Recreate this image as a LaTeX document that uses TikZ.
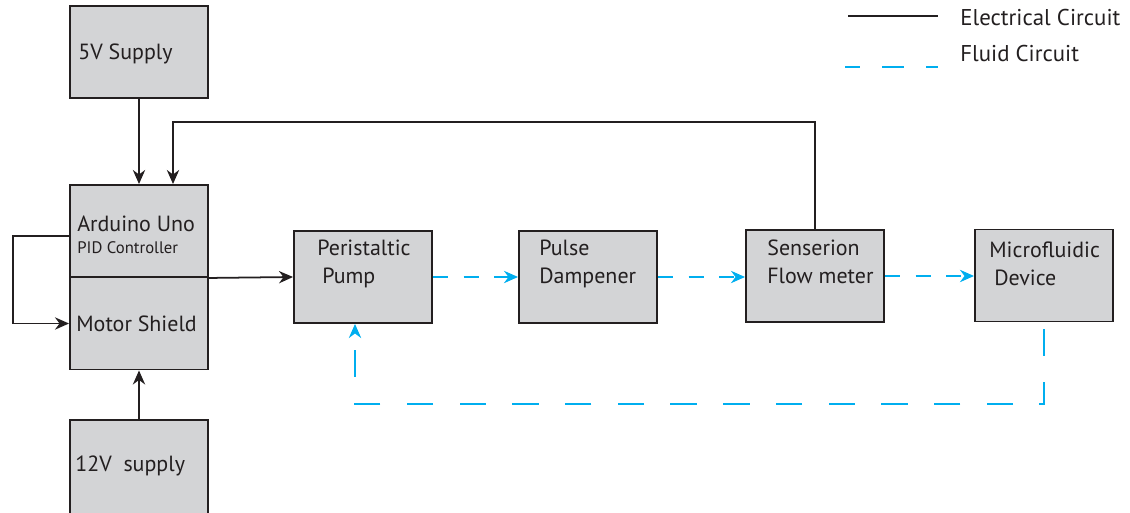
\documentclass[tikz,border=0pt]{standalone}
\usepackage{fontspec}
\setmainfont{PT Sans}
\usetikzlibrary{arrows.meta}
\definecolor{boxgray}{HTML}{D3D4D6}
\definecolor{fluidblue}{HTML}{00AEEF}
\definecolor{edgeblack}{HTML}{231F20}
\tikzset{
	block/.style={draw=edgeblack, fill=boxgray, line width=1.1pt, minimum width=2.76cm, minimum height=1.84cm, inner sep=0pt},
	txt/.style={anchor=base west, inner sep=0pt, align=left, text=edgeblack, font=\fontsize{12.5}{15.9}\selectfont},
	wire/.style={draw=edgeblack, line width=1pt, -{Stealth[length=8pt,width=7pt]}},
	fluid/.style={draw=fluidblue, line width=1.1pt, dash pattern=on 8.5pt off 9pt, -{Stealth[length=8pt,width=7pt]}},
}

\begin{document}
\begin{tikzpicture}
		%%%%% START %%%%%
		\useasboundingbox (0, 0) rectangle (22.6, 10.24);
		
		% supplies and controller
		\node[block] (supply5) at (2.78, 9.2) {};
		\node[block] (arduino) at (2.78, 5.62) {};
		\node[block] (motor) at (2.78, 3.77) {};
		\node[block, minimum height=2.2cm] (supply12) at (2.78, 0.74) {};
		
		\node[txt] (t5v) at (1.56, 9.04) {5V Supply};
		\node[txt] (tarduino) at (1.54, 5.62) {Arduino Uno};
		\node[txt, font=\fontsize{9.5}{12}\selectfont] (tpid) at (1.54, 5.16) {PID Controller};
		\node[txt] (tmotor) at (1.52, 3.62) {Motor Shield};
		\node[txt] (t12v) at (1.5, 0.82) {12V\ \ supply};
		
		% fluid path
		\node[block] (pump) at (7.26, 4.7) {};
		\node[block] (damper) at (11.76, 4.7) {};
		\node[block] (sensor) at (16.3, 4.72) {};
		\node[block] (micro) at (20.88, 4.73) {};
		
		% anchor sits on the last line's baseline
		\node[txt] (tpump) at (6.34, 4.58) {Peristaltic\\\hspace{2.8pt}Pump};
		\node[txt] (tdamper) at (10.78, 4.58) {Pulse\\Dampener};
		\node[txt] (tsensor) at (15.34, 4.58) {Senserion\\Flow meter};
		\node[txt] (tmicro) at (19.78, 4.54) {Microfluidic\\\hspace{2.8pt}Device};
		
		% electrical lines
		\draw[wire] (supply5) -- (arduino);
		\draw[wire] (supply12) -- (motor);
		\draw[wire] (arduino.south east) -- (pump.west);
		
		\coordinate (fb) at (3.46, 7.8);
		\draw[wire] (sensor.north) |- (fb) -- (fb |- arduino.north);
		
		\coordinate (lp) at (0.26, 5.52);
		\draw[wire] (lp -| arduino.west) -- (lp) |- (motor.west);
		
		% fluid lines
		\draw[fluid] (pump) -- (damper);
		\draw[fluid] (damper.east) -- (damper.east -| sensor.west);
		\draw[fluid] (sensor.east) -- (sensor.east -| micro.west);
		
		\coordinate (ret) at (7.1, 2.16);
		\draw[fluid, dash pattern=on 15pt off 15pt] ([yshift=-0.14cm]micro.south) |- (ret) -- (ret |- pump.south);
		
		% legend
		\coordinate (ea) at (16.96, 9.92);
		\coordinate (eb) at (18.76, 9.92);
		\coordinate (fa) at (16.9, 8.9);
		\coordinate (fb2) at (18.76, 8.9);
		\draw[draw=edgeblack, line width=1.1pt] (ea) -- (eb);
		\draw[draw=fluidblue, line width=1.1pt, dash pattern=on 12pt off 12.8pt, dash phase=3.5pt] (fa) -- (fb2);
		\node[txt, font=\fontsize{13}{16}\selectfont] (lelec) at (19.2, 9.72) {Electrical Circuit};
		\node[txt, font=\fontsize{13}{16}\selectfont] (lfluid) at (19.2, 9.0) {Fluid Circuit};
		
		%%%%% END %%%%%
	\end{tikzpicture}
\end{document}
